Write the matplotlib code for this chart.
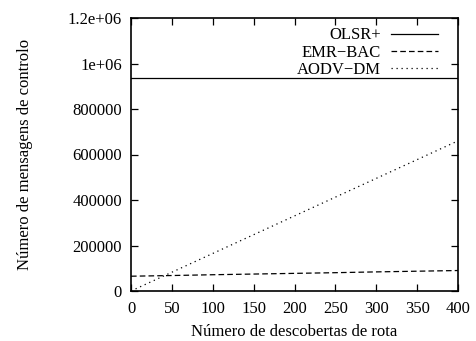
import matplotlib
matplotlib.use("Agg")
import matplotlib.pyplot as plt

plt.rcParams['font.family'] = ['Liberation Serif', 'DejaVu Serif']

x = [0, 50, 100, 150, 200, 250, 300, 350, 400]
olsr = [935000, 935000, 935000, 935000, 935000, 935000, 935000, 935000, 935000]
emr = [65000, 68000, 71500, 74500, 77500, 80500, 84000, 87000, 90000]
aodv = [0, 82500, 165000, 247500, 330000, 412500, 495000, 577500, 660000]

xticks = [0, 50, 100, 150, 200, 250, 300, 350, 400]
yticks = [0, 200000, 400000, 600000, 800000, 1000000, 1200000]
yticklabels = ['0', '200000', '400000', '600000', '800000', '1e+06', '1.2e+06']

fig = plt.figure(figsize=(4.76, 3.41), dpi=100)
ax = fig.add_axes([131/476, 1 - 291/341, (458-131)/476, (291-18)/341])

ax.plot(x, olsr, color='black', lw=0.9, label='OLSR+')
ax.plot(x, emr, color='black', lw=0.9, dashes=(4.5, 2.5), label='EMR\u2212BAC')
ax.plot(x, aodv, color='black', lw=0.9, dashes=(1, 3), label='AODV\u2212DM')

ax.set_xlim(0, 400)
ax.set_ylim(0, 1200000)
ax.set_xticks(xticks)
ax.set_xticklabels([str(v) for v in xticks])
ax.set_yticks(yticks)
ax.set_yticklabels(yticklabels)
ax.tick_params(direction='in', top=True, right=True, length=5, width=0.9, labelsize=12)
ax.tick_params(axis='x', pad=7.5)
ax.tick_params(axis='y', pad=6.5)
for s in ax.spines.values():
    s.set_linewidth(1.2)

ax.set_xlabel('Número de descobertas de rota', fontsize=12, labelpad=5)
ax.set_ylabel('Número de mensagens de controlo', fontsize=12, labelpad=25)

leg = ax.legend(loc='upper right', bbox_to_anchor=(0.958, 0.99), frameon=False,
                markerfirst=False, fontsize=12, handlelength=2.8, labelspacing=0.08,
                borderaxespad=0.0, handletextpad=0.6)
for t in leg.get_texts():
    t.set_ha('right')

fig.savefig('out.png', dpi=100)
